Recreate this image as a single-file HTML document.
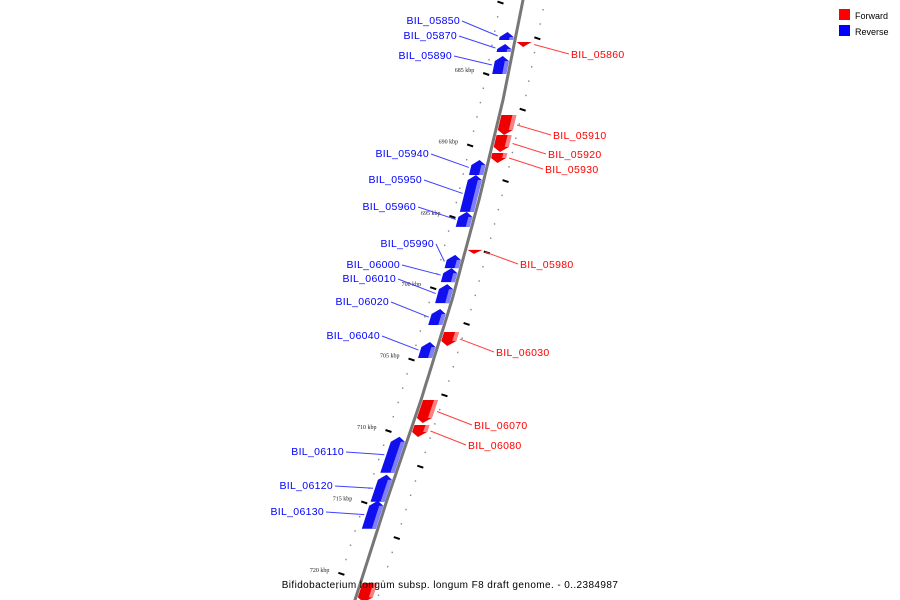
<!DOCTYPE html>
<html><head><meta charset="utf-8"><style>
html,body{margin:0;padding:0;background:#fff;width:900px;height:600px;overflow:hidden}
svg{display:block;font-family:"Liberation Sans",sans-serif}
</style></head><body>
<svg id="map" width="900" height="600" viewBox="0 0 900 600">
<g id="ticks"></g>
<path id="backbone" fill="none" stroke="#777" stroke-width="3"/>
<g id="genes"></g>
<g>
<rect x="839" y="9" width="11" height="11" fill="#f00"/>
<text x="855" y="19" font-size="9">Forward</text>
<rect x="839" y="25" width="11" height="11" fill="#00f"/>
<text x="855" y="35" font-size="9">Reverse</text>
</g>
<text x="450" y="588" font-size="10" text-anchor="middle" letter-spacing="0.4">Bifidobacterium longum subsp. longum F8 draft genome. - 0..2384987</text>
</svg>
<script>
const revNames=["BIL_05850","BIL_05870","BIL_05890","BIL_05940","BIL_05950","BIL_05960","BIL_05990","BIL_06000","BIL_06010","BIL_06020","BIL_06040","BIL_06110","BIL_06120","BIL_06130"];
const revStart=[682.06,682.90,683.74,691.02,692.07,694.66,697.67,698.59,699.71,701.46,703.77,710.40,713.06,714.88];
const revEnd=[682.62,683.46,685.0,692.07,694.66,695.71,698.59,699.57,701.04,702.58,704.89,712.92,714.95,716.84];
const fwdNames=["BIL_05860","BIL_05910","BIL_05920","BIL_05930","BIL_05980","BIL_06030","BIL_06070","BIL_06080",""];
const fwdStart=[682.76,687.87,689.27,690.53,697.32,703.07,707.83,709.58,720.64];
const fwdEnd=[683.11,689.27,690.46,691.23,697.60,704.05,709.44,710.42,722.0];
const tickLabels=["685 kbp","690 kbp","695 kbp","700 kbp","705 kbp","710 kbp","715 kbp","720 kbp"];
const tickKbp=[685,690,695,700,705,710,715,720];
// label layout (pixels)
const revLabelX=[460,457,452,429,422,416,434,400,396,389,380,344,333,324];
const revLabelY=[20,35,55,153,179,206,243,264,278,301,335,451,485,511];
const fwdLabelX=[571,553,548,545,520,496,474,468,0];
const fwdLabelY=[54,135,154,169,264,352,425,445,0];

const NS="http://www.w3.org/2000/svg";
function yOf(k){return 74+(k-685)*14.28;}
const bpY=[0,100,200,300,400,500,600],bpX=[523,503,479,452,421,387,355];
function xOf(y){if(y<=0)return bpX[0]+(bpX[0]-bpX[1])*(-y)/100;if(y>=600)return 355-(y-600)*0.32;
const i=Math.floor(y/100);return bpX[i]+(bpX[i+1]-bpX[i])*(y-bpY[i])/100;}
function mk(t,a,p){const e=document.createElementNS(NS,t);for(const k in a)e.setAttribute(k,a[k]);p.appendChild(e);return e;}
let d="";for(let y=-5;y<=605;y+=5)d+=(y<0?"M":"L")+xOf(y).toFixed(1)+","+y;
document.getElementById("backbone").setAttribute("d",d);

const tg=document.getElementById("ticks");
for(let k=680;k<=722;k+=1){
 const y=yOf(k);const major=k%5===0;
 const lx=xOf(y)-22;
 const t=mk("line",{x1:lx-(major?3:0.7),y1:y-(major?1:0),x2:lx+(major?3:0.7),y2:y+(major?1:0),stroke:major?"#000":"#888","stroke-width":major?2:1.5},tg);
 
 
 const y2=yOf(k+0.5);const rx=xOf(y2)+22;const m2=(k+0.5-2.5)%5===0;
 const t2=mk("line",{x1:rx-(m2?3:0.7),y1:y2-(m2?1:0),x2:rx+(m2?3:0.7),y2:y2+(m2?1:0),stroke:m2?"#000":"#888","stroke-width":m2?2:1.5},tg);
 
 
}
tickKbp.forEach((k,i)=>{const y=yOf(k);
 const t=mk("text",{x:xOf(y)-34,y:y-2,"font-size":6,"text-anchor":"end",fill:"#222","font-family":"Liberation Serif, serif"},tg);
 t.textContent=tickLabels[i];
 
 });

const gg=document.getElementById("genes");
function gene(y1,y2,o1,o2,rev,col,light,name){
 const P=(y,o)=>(xOf(y)+o).toFixed(1)+","+y.toFixed(1);
 const ah=Math.min(5,(y2-y1));
 let pts;
 if(rev){pts=[P(y1+ah,o1),P(y1,(o1+o2)/2),P(y1+ah,o2),P(y2,o2),P(y2,o1)];}
 else{pts=[P(y1,o1),P(y1,o2),P(y2-ah,o2),P(y2,(o1+o2)/2),P(y2-ah,o1)];}
 const g=mk("g",{},gg);
 
 
 mk("polygon",{points:pts.join(" "),fill:col},g);
 const s=rev?[P(y1+ah,o2-4),P(y1+ah,o2),P(y2,o2),P(y2,o2-4)]:[P(y1,o2-4),P(y1,o2),P(y2-ah,o2),P(y2-ah,o2-4)];
 mk("polygon",{points:s.join(" "),fill:light},g);
 return g;}
revNames.forEach((n,i)=>{const y1=yOf(revStart[i]),y2=yOf(revEnd[i]);
 gene(y1,y2,-16,-2,true,"#1010ee","#7f7fff",n);
 const ym=(y1+y2)/2;
 const l=mk("line",{x1:revLabelX[i]+2,y1:revLabelY[i]+1,x2:xOf(ym)-18,y2:ym,stroke:"#4040ff","stroke-width":1},gg);
 
 
 const t=mk("text",{x:revLabelX[i],y:revLabelY[i]+4,"font-size":10.5,"text-anchor":"end",fill:"#00f","letter-spacing":"0.3"},gg);
 t.textContent=n;
 
 });
fwdNames.forEach((n,i)=>{const y1=yOf(fwdStart[i]),y2=yOf(fwdEnd[i]);
 gene(y1,y2,2,17,false,"#ee0000","#ff8080",n);
 if(!n)return;
 const ym=(y1+y2)/2;
 const l=mk("line",{x1:xOf(ym)+20,y1:ym,x2:fwdLabelX[i]-2,y2:fwdLabelY[i],stroke:"#ff4040","stroke-width":1},gg);
 
 
 const t=mk("text",{x:fwdLabelX[i],y:fwdLabelY[i]+4,"font-size":10.5,fill:"#f00","letter-spacing":"0.3"},gg);
 t.textContent=n;
 
 });
</script>
</body></html>
